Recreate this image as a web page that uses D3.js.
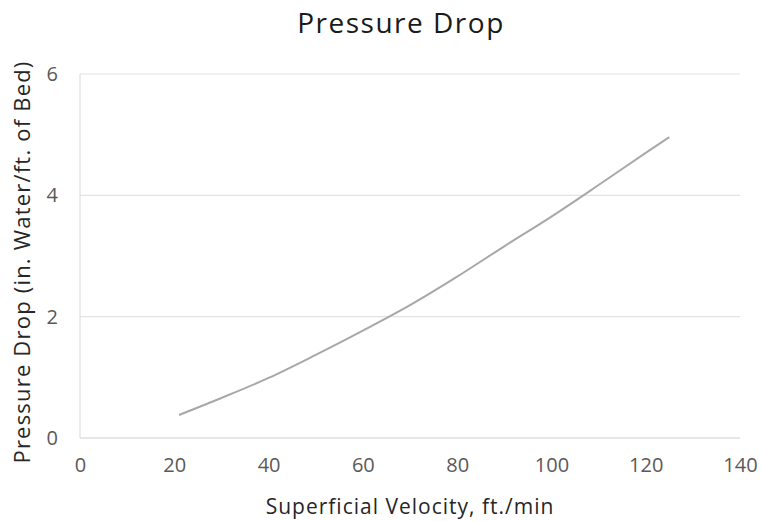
<!DOCTYPE html>
<html><head><meta charset="utf-8">
<script src="https://cdn.jsdelivr.net/npm/d3@7"></script>
<style>body{margin:0;background:#fff}svg{display:block}</style>
</head><body>
<svg id="c" width="762" height="521"></svg>
<script>
const velocity = [21, 30, 40, 50, 60, 70, 80, 90, 100, 110, 120, 125];
const pressure = [0.38, 0.66, 0.99, 1.37, 1.77, 2.19, 2.66, 3.16, 3.65, 4.17, 4.70, 4.96];
const xTicks = [0, 20, 40, 60, 80, 100, 120, 140];
const yTicks = [0, 2, 4, 6];
const title = "Pressure Drop";
const xLabel = "Superficial Velocity, ft./min";
const yLabel = "Pressure Drop (in. Water/ft. of Bed)";

const svg = d3.select("#c");
const font = "'Open Sans', sans-serif";
const x = d3.scaleLinear().domain([0, 140]).range([80, 740]);
const y = d3.scaleLinear().domain([0, 6]).range([438, 74]);

// gridlines
svg.append("g").selectAll("line").data(yTicks).join("line")
  .attr("x1", x(0)).attr("x2", x(140))
  .attr("y1", d => y(d)).attr("y2", d => y(d))
  .attr("stroke", d => d === 0 ? "#d0d0d0" : "#e3e3e3").attr("stroke-width", 1.2);
svg.append("line").attr("x1", x(0)).attr("x2", x(0)).attr("y1", y(0)).attr("y2", y(6))
  .attr("stroke", "#e0e0e0").attr("stroke-width", 1.2);

// axes tick labels
const xAxis = d3.axisBottom(x).tickValues(xTicks).tickFormat(d3.format("d")).tickSize(0).tickPadding(20);
const gx = svg.append("g").attr("transform", `translate(0,${y(0)})`).call(xAxis);
gx.select(".domain").remove();
gx.selectAll("text").attr("font-family", font).attr("font-size", 20).attr("fill", "#595959");

const yAxis = d3.axisLeft(y).tickValues(yTicks).tickFormat(d3.format("d")).tickSize(0).tickPadding(22);
const gy = svg.append("g").attr("transform", `translate(${x(0)},0)`).call(yAxis);
gy.select(".domain").remove();
gy.selectAll("text").attr("font-family", font).attr("font-size", 20).attr("fill", "#595959");

// line
const data = velocity.map((v, i) => ({ v, p: pressure[i] }));
svg.append("path").datum(data)
  .attr("fill", "none").attr("stroke", "#a8a8a8").attr("stroke-width", 2)
  .attr("d", d3.line().x(d => x(d.v)).y(d => y(d.p)).curve(d3.curveMonotoneX));

// titles
svg.append("text").attr("x", 401).attr("y", 33).attr("text-anchor", "middle")
  .attr("font-family", font).attr("font-size", 28).attr("letter-spacing", 1.5)
  .attr("fill", "#1a1a1a").text(title);
svg.append("text").attr("x", 410).attr("y", 514).attr("text-anchor", "middle")
  .attr("font-family", font).attr("font-size", 21).attr("letter-spacing", 1)
  .attr("fill", "#262626").text(xLabel);
svg.append("text").attr("transform", "translate(30,262) rotate(-90)").attr("text-anchor", "middle")
  .attr("font-family", font).attr("font-size", 22).attr("letter-spacing", 1.2)
  .attr("fill", "#262626").text(yLabel);
</script>
</body></html>
